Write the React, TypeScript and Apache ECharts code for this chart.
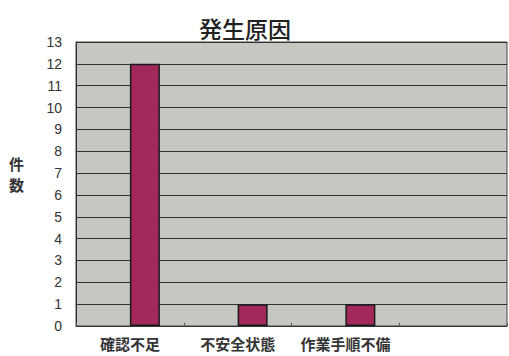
import React, { useEffect, useRef } from "react";
import * as echarts from "echarts";

const categories = ["確認不足", "不安全状態", "作業手順不備", ""];
const counts = [12, 1, 1, null];
const emptySeries = [null, null, null, null];
const yTicks = { min: 0, max: 13, interval: 1 };
const titleText = "発生原因";
const yName = ["件", "数"];

export default function App() {
  const ref = useRef<HTMLDivElement>(null);
  useEffect(() => {
    const chart = echarts.init(ref.current!, null, { renderer: "svg" });
    chart.setOption({
      animation: false,
      backgroundColor: "#ffffff",
      title: {
        text: titleText,
        left: 240,
        top: 11,
        textAlign: "center",
        textStyle: {
          fontFamily: "Noto Sans CJK JP",
          fontSize: 23,
          fontWeight: 500,
          color: "#222",
        },
      },
      graphic: yName.map((t, i) => ({
        type: "text",
        left: 9,
        top: 156 + i * 21,
        style: {
          text: t,
          fontFamily: "Noto Sans CJK JP",
          fontSize: 15,
          lineHeight: 15,
          fontWeight: "bold",
          fill: "#333",
        },
      })),
      grid: {
        left: 76,
        right: 2,
        top: 42,
        bottom: 30,
        show: true,
        backgroundColor: "#c4c8c0",
        borderColor: "#444",
        borderWidth: 1,
      },
      xAxis: {
        type: "category",
        data: categories,
        axisLine: { show: true, lineStyle: { color: "#333", width: 1 } },
        axisTick: { show: true, inside: true, length: 3, lineStyle: { color: "#555" } },
        axisLabel: {
          interval: 0,
          margin: 10,
          fontFamily: "Noto Sans CJK JP",
          fontSize: 15,
          fontWeight: "bold",
          color: "#333",
        },
      },
      yAxis: {
        type: "value",
        min: yTicks.min,
        max: yTicks.max,
        interval: yTicks.interval,
        axisLine: { show: true, lineStyle: { color: "#333" } },
        axisTick: { show: false },
        axisLabel: {
          margin: 14,
          fontFamily: "Liberation Sans",
          fontSize: 14,
          color: "#333",
        },
        splitLine: { show: true, lineStyle: { color: "#333", width: 1 } },
      },
      series: [
        {
          type: "bar",
          data: emptySeries,
          barWidth: 30,
          barGap: "0%",
        },
        {
          type: "bar",
          data: counts,
          barWidth: 30,
          barGap: "0%",
          itemStyle: { color: "#a3285c", borderColor: "#1a1a1a", borderWidth: 1.5 },
        },
      ],
    });
    return () => chart.dispose();
  }, []);
  return <div ref={ref} style={{ width: 509, height: 356, position: "absolute", left: 0, top: 0 }} />;
}
